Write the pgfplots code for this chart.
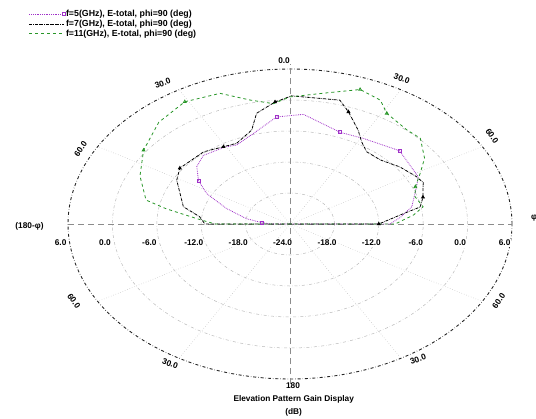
\documentclass[border=0pt]{standalone}
\usepackage{fontspec}
\setmainfont{Liberation Sans}
\usepackage{pgfplots}
\pgfplotsset{compat=1.18}
\usepackage{pgfplotstable}
\definecolor{myviolet}{RGB}{160,50,200}
\definecolor{mygreen}{RGB}{40,150,40}

\pgfplotstableread{
t g
-90 -24
-90 -21.5
-86 -20.2
-80 -18.0
-70.7 -14.9
-62.4 -11.3
-56 -9.1
-48.6 -7.2
-41.4 -6.3
-30.5 -6.7
-25.2 -7.1
-15.8 -5.8
-5 -3.2
4.9 -2.7
20.9 -5.0
30.8 -4.7
46.2 -3.5
62 -4.4
67 -5.4
74.5 -6.7
78.5 -7.2
85 -9.0
90 -10.5
90 -24
}\fivetab

\pgfplotstableread{
t g
-90 -24
-90 -12.5
-83.4 -11.7
-76.9 -9.2
-61 -6.5
-54 -5.6
-39.9 -5.8
-31 -6.55
-24.8 -6.8
-15.9 -5.1
-11.9 -2.1
-4.9 -0.3
0.5 0.8
15.7 0.9
20 -0.9
26.8 -3.6
31.4 -5.4
36.5 -6.6
44.5 -6.6
53.3 -5.5
61.8 -4.6
66 -4.3
73.9 -5.3
79.4 -6.1
83.3 -9.0
90 -12.0
90 -24
}\seventab

\pgfplotstableread{
t g
-90 -24
-90 -13.9
-86 -11.8
-80 -7.0
-76.6 -4.0
-65.4 -1.7
-54.2 0.4
-42 2.5
-31 3.6
-20.5 3.0
-12.7 0.6
-5.5 -0.6
0 0.6
10 1.7
20 3.7
27 2.9
31.4 1.1
41 0.1
46.7 0.2
55 -1.8
61 -3.9
67 -5.6
72.6 -6.3
79.5 -5.7
84 -7.2
90 -9.8
90 -24
}\eleventab

\begin{document}
\begin{tikzpicture}
\begin{axis}[name=A,
  scale only axis, width=444pt, height=310pt,
  xmin=-30, xmax=30, ymin=-30, ymax=30,
  axis lines=none, clip=false,
  legend style={at={(-0.095,1.20)}, anchor=north west, draw=none, fill=none,
    font=\fontsize{8.8}{9}\selectfont\bfseries, row sep=0pt,
    nodes={inner sep=1pt}},
  legend cell align=left,
  legend image code/.code={\draw[mark repeat=2,mark phase=2,#1] plot coordinates {(0cm,0cm) (0.6cm,0cm) (1.2cm,0cm)};},
]
% rings
\pgfplotsinvokeforeach{6,12,18,24}{
  \addplot[gray!55, dash dot, line width=0.5pt, domain=0:360, samples=181, data cs=polar, forget plot] ({x},{#1});
}
\addplot[black!85, dash dot, line width=0.9pt, domain=0:360, samples=241, data cs=polar, forget plot] ({x},{30});
% spokes
\pgfplotsinvokeforeach{30,60,120,150,210,240,300,330}{
  \addplot[gray!55, dotted, line width=0.5pt, data cs=polar, forget plot] coordinates {(#1,0) (#1,30)};
}
\addplot[gray!90, dash pattern=on 6pt off 4pt, line width=0.6pt, forget plot] coordinates {(0,-31) (0,31)};
\addplot[gray!90, dash pattern=on 6pt off 4pt, line width=0.6pt, forget plot] coordinates {(-30,0) (30,0)};

% data
\addplot[myviolet, densely dotted, line width=0.8pt, mark=square, mark size=1.5pt, mark options={solid},
  mark indices={3,7,13,15,17}, data cs=polar]
  table[x expr={90-\thisrow{t}}, y expr={\thisrow{g}+24}] {\fivetab};
\addlegendentry{f=5(GHz), E-total, phi=90 (deg)}
\addplot[black, densely dash dot, line width=0.8pt, mark=triangle*, mark size=1.6pt, mark options={solid},
  mark indices={6,8,12,15,23,26}, data cs=polar]
  table[x expr={90-\thisrow{t}}, y expr={\thisrow{g}+24}] {\seventab};
\addlegendentry{f=7(GHz), E-total, phi=90 (deg)}
\addplot[mygreen, dashed, line width=0.8pt, mark=triangle, mark size=1.6pt, mark options={solid},
  mark indices={7,9,15,17,22}, data cs=polar]
  table[x expr={90-\thisrow{t}}, y expr={\thisrow{g}+24}] {\eleventab};
\addlegendentry{f=11(GHz), E-total, phi=90 (deg)}

% radial labels
\begin{scope}[every node/.style={font=\fontsize{8.3}{9}\selectfont\bfseries, fill=white, inner sep=0.8pt}]
\node at (axis cs:-31,-3.7) {6.0};
\node at (axis cs:-25,-3.7) {0.0};
\node at (axis cs:-19,-3.7) {-6.0};
\node at (axis cs:-13,-3.7) {-12.0};
\node at (axis cs:-7,-3.7) {-18.0};
\node at (axis cs:-1,-3.7) {-24.0};
\node at (axis cs:5,-3.7) {-18.0};
\node at (axis cs:11,-3.7) {-12.0};
\node at (axis cs:17,-3.7) {-6.0};
\node at (axis cs:23,-3.7) {0.0};
\node at (axis cs:29,-3.7) {6.0};
\end{scope}
% angle labels
\begin{scope}[every node/.style={font=\fontsize{8.3}{9}\selectfont\bfseries, inner sep=0.5pt}]
\node at (axis cs:-0.8,31.7) {0.0};
\node[rotate=20] at (axis cs:-17.2,27.2) {30.0};
\node[rotate=-20] at (axis cs:15.1,28.1) {30.0};
\node[rotate=55] at (axis cs:-28.3,14.5) {60.0};
\node[rotate=-55] at (axis cs:27.3,17.0) {60.0};
\node at (axis cs:-35.2,-0.4) {(180-φ)};
\node at (axis cs:33.0,1.2) {φ};
\node[rotate=-55] at (axis cs:-29.2,-14.9) {60.0};
\node[rotate=-20] at (axis cs:-16.2,-27.0) {30.0};
\node[rotate=20] at (axis cs:17.3,-26.2) {30.0};
\node[rotate=55] at (axis cs:28.2,-14.9) {60.0};
\node at (axis cs:0.4,-31.2) {180};
\node at (axis cs:0.5,-34.0) {Elevation Pattern Gain Display};
\node at (axis cs:0.5,-36.4) {(dB)};
\end{scope}
\end{axis}
\pgfresetboundingbox
\path[use as bounding box] ([shift={(-68pt,-39pt)}]A.south west) rectangle ([shift={(24pt,69pt)}]A.north east);
\end{tikzpicture}
\end{document}
